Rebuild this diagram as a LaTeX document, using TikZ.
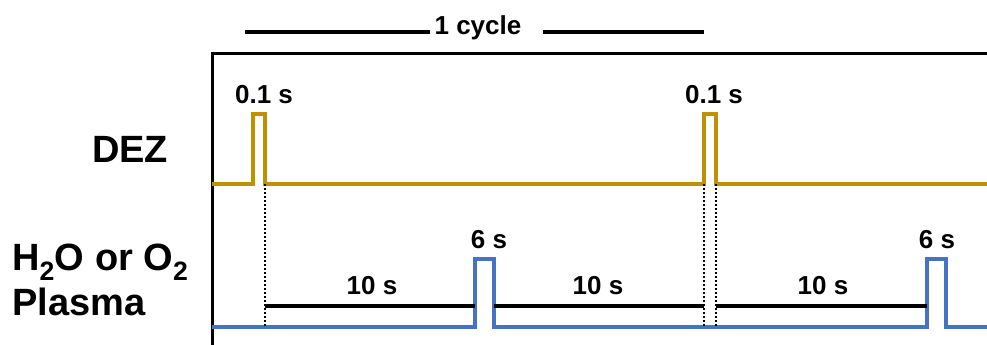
\documentclass[tikz,border=0pt]{standalone}
\usepackage{fontspec}
\setmainfont{Liberation Sans}
\definecolor{dezgold}{RGB}{191,144,0}
\definecolor{plblue}{RGB}{68,114,196}
\begin{document}
\begin{tikzpicture}[x=1pt,y=-1pt,
  lbl/.style={inner sep=0pt,anchor=base,font=\fontsize{26}{28}\selectfont\bfseries},
  big/.style={inner sep=0pt,anchor=base west,font=\fontsize{38}{40}\selectfont\bfseries},
  frame/.style={line width=3pt,black},
  gold/.style={line width=3.5pt,dezgold},
  blue/.style={line width=3.5pt,plblue},
  span/.style={line width=3.5pt,black},
  dots/.style={line width=2pt,black,dash pattern=on 2pt off 2pt}]
\useasboundingbox (0,0) rectangle (987,345);
% frame
\draw[frame] (212,345) -- (212,54) -- (987,54);
% cycle marker
\node[lbl] (cyc) at (478,35) {1 cycle};
\coordinate (cl1) at (245,32); \coordinate (cl2) at (430,32);
\coordinate (cr1) at (543,32); \coordinate (cr2) at (704,32);
\draw[span,line width=3.5pt] (cl1) -- (cl2);
\draw[span,line width=3.5pt] (cr1) -- (cr2);
% left labels
\node[big] (dez) at (92,162) {DEZ};
\node[big] (h2o) at (12,270) {H\textsubscript{2}O or O\textsubscript{2}};
\node[big] (pla) at (12,315) {Plasma};
% DEZ trace
\coordinate (d0) at (212,184);
\coordinate (d1) at (253,184); \coordinate (d2) at (265,184);
\coordinate (d3) at (704,184); \coordinate (d4) at (716,184);
\coordinate (d5) at (987,184);
\draw[gold] (d0) -- (d1) -- (253,114) -- (265,114) -- (d2) -- (d3) -- (704,114) -- (716,114) -- (d4) -- (d5);
\node[lbl] (p1) at (264,103) {0.1 s};
\node[lbl] (p2) at (714,103) {0.1 s};
% plasma trace
\coordinate (b0) at (212,327);
\coordinate (b1) at (475,327); \coordinate (b2) at (494,327);
\coordinate (b3) at (927,327); \coordinate (b4) at (946,327);
\coordinate (b5) at (987,327);
\draw[blue] (b0) -- (b1) -- (475,259) -- (494,259) -- (b2) -- (b3) -- (927,259) -- (946,259) -- (b4) -- (b5);
\node[lbl] (s1) at (489,248) {6 s};
\node[lbl] (s2) at (937,248) {6 s};
% dotted guides
\coordinate (g1) at (265,327); \coordinate (g3) at (704,327); \coordinate (g4) at (716,327);
\draw[dots] (d2) -- (g1);
\draw[dots] (d3) -- (g3);
\draw[dots] (d4) -- (g4);
% 10 s spans
\coordinate (t1a) at (265,306); \coordinate (t1b) at (475,306);
\coordinate (t2a) at (494,306); \coordinate (t2b) at (704,306);
\coordinate (t3a) at (716,306); \coordinate (t3b) at (927,306);
\draw[span] (t1a) -- (t1b);
\draw[span] (t2a) -- (t2b);
\draw[span] (t3a) -- (t3b);
\node[lbl] (w1) at (372,294) {10 s};
\node[lbl] (w2) at (598,294) {10 s};
\node[lbl] (w3) at (823,294) {10 s};
\end{tikzpicture}
\end{document}
